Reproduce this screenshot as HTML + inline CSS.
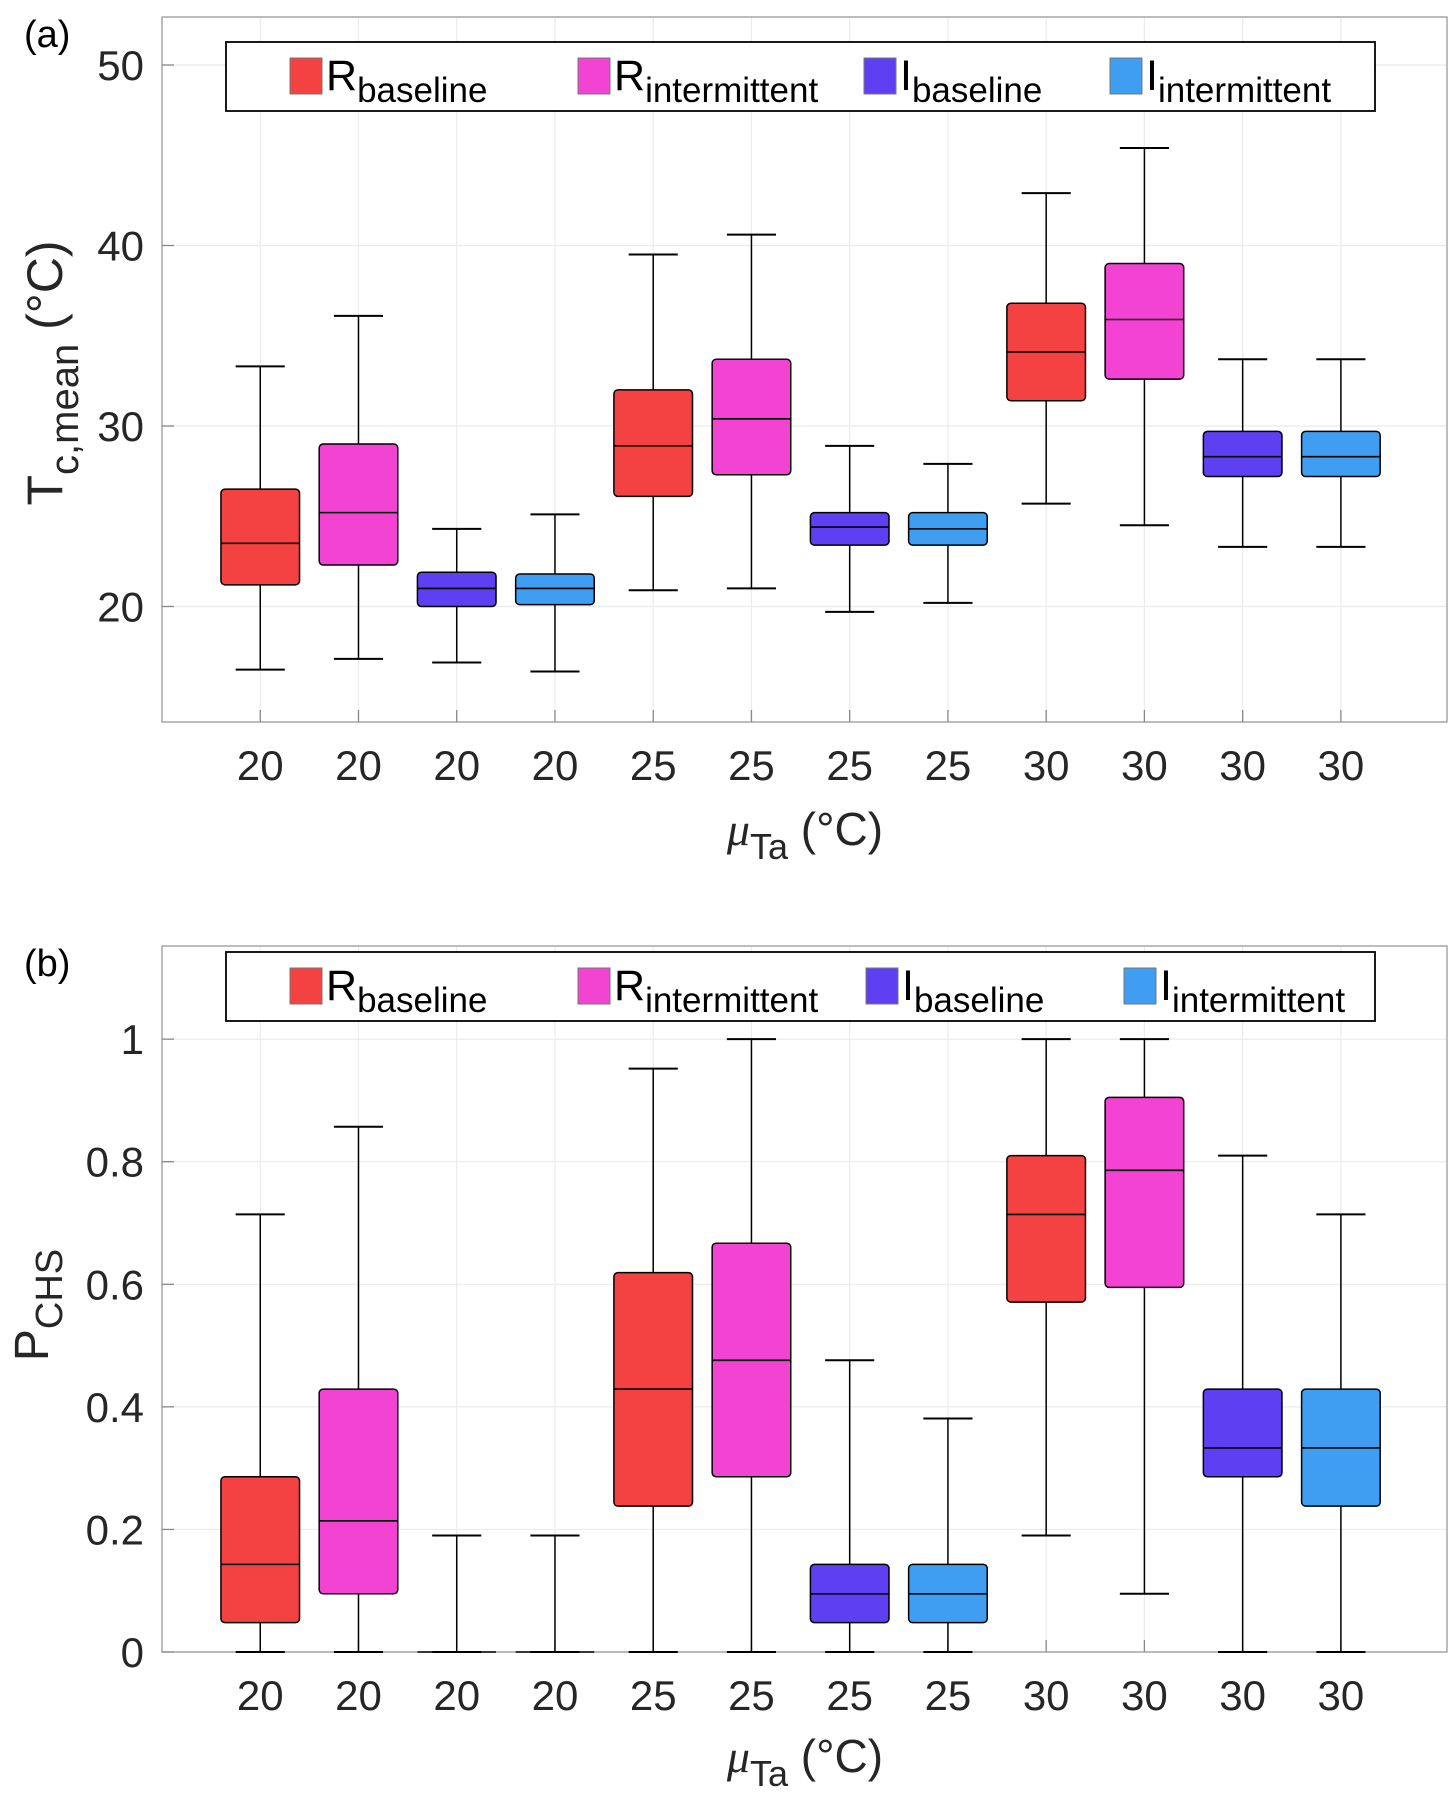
<!DOCTYPE html>
<html><head><meta charset="utf-8"><style>
html,body{margin:0;padding:0;background:#fff;}
svg{display:block;font-family:"Liberation Sans",Arial,sans-serif;}
</style></head><body>
<svg id="fig" width="1456" height="1815" viewBox="0 0 1456 1815" xmlns="http://www.w3.org/2000/svg"></svg>
<script>
const categories = ["20","20","20","20","25","25","25","25","30","30","30","30"];
const groupNames = ["r-baseline","r-intermittent","i-baseline","i-intermittent"];
// panel a: Tc,mean
const aWhiskerLow = [16.5,17.1,16.9,16.4,20.9,21.0,19.7,20.2,25.7,24.5,23.3,23.3];
const aQ1 =         [21.2,22.3,20.0,20.1,26.1,27.3,23.4,23.4,31.4,32.6,27.2,27.2];
const aMedian =     [23.5,25.2,21.0,21.0,28.9,30.4,24.4,24.3,34.1,35.9,28.3,28.3];
const aQ3 =         [26.5,29.0,21.9,21.8,32.0,33.7,25.2,25.2,36.8,39.0,29.7,29.7];
const aWhiskerHigh= [33.3,36.1,24.3,25.1,39.5,40.6,28.9,27.9,42.9,45.4,33.7,33.7];
const aTicks = [20,30,40,50];
// panel b: P_CHS
const bWhiskerLow = [0,0,0,0,0,0,0,0,0.19,0.095,0,0];
const bQ1 =         [0.048,0.095,0,0,0.238,0.286,0.048,0.048,0.571,0.595,0.286,0.238];
const bMedian =     [0.143,0.214,0,0,0.429,0.476,0.095,0.095,0.714,0.786,0.333,0.333];
const bQ3 =         [0.286,0.429,0,0,0.619,0.667,0.143,0.143,0.81,0.905,0.429,0.429];
const bWhiskerHigh= [0.714,0.857,0.19,0.19,0.952,1,0.476,0.381,1,1,0.81,0.714];
const bTicks = [0,0.2,0.4,0.6,0.8,1];
const bTickLabels = ["0","0.2","0.4","0.6","0.8","1"];

const colors = ["#f44141","#f243d2","#5e3ff2","#3f9df2"];
const NS = "http://www.w3.org/2000/svg";
const svg = document.getElementById("fig");
function mk(tag, attrs, parent){const e=document.createElementNS(NS,tag);for(const k in attrs)e.setAttribute(k,attrs[k]);(parent||svg).appendChild(e);return e;}

function panel(cfg){
  const g = mk("g",{});
  
  
  const L=162,R=1447,T=cfg.top,B=cfg.bottom;
  const xs = i => L + (i+1)/(13.08) * (R-L);
  const ys = v => B - (v-cfg.ymin)/(cfg.ymax-cfg.ymin)*(B-T);
  categories.forEach((c,i)=>{const l=mk("line",{x1:xs(i),x2:xs(i),y1:T,y2:B,stroke:"#ebebeb","stroke-width":1.2},g);
    });
  cfg.ticks.forEach(t=>{const l=mk("line",{x1:L,x2:R,y1:ys(t),y2:ys(t),stroke:"#ebebeb","stroke-width":1.2},g);
    });
  const ax=mk("rect",{x:L,y:T,width:R-L,height:B-T,fill:"none",stroke:"#999","stroke-width":1.3},g);
  
  cfg.ticks.forEach((t,k)=>{
    mk("line",{x1:L,x2:L+12,y1:ys(t),y2:ys(t),stroke:"#888","stroke-width":1.3},g);
    const tx=mk("text",{x:L-18,y:ys(t)+15,"text-anchor":"end","font-size":42,fill:"#262626"},g);
    tx.textContent=cfg.tickLabels[k];
    
  });
  categories.forEach((c,i)=>{
    mk("line",{x1:xs(i),x2:xs(i),y1:B,y2:B-12,stroke:"#888","stroke-width":1.3},g);
    const tx=mk("text",{x:xs(i),y:cfg.xlabY,"text-anchor":"middle","font-size":42,fill:"#262626"},g);
    tx.textContent=c;
    
  });
  const bw=0.8*(R-L)/13.08, cw=0.5*(R-L)/13.08;
  categories.forEach((c,i)=>{
    const x=xs(i), col=colors[i%4];
    const bg=mk("g",{},g);
    
    
    mk("line",{x1:x,x2:x,y1:ys(cfg.wl[i]),y2:ys(cfg.wh[i]),stroke:"#000","stroke-width":1.5},bg);
    mk("line",{x1:x-cw/2,x2:x+cw/2,y1:ys(cfg.wl[i]),y2:ys(cfg.wl[i]),stroke:"#000","stroke-width":2},bg);
    mk("line",{x1:x-cw/2,x2:x+cw/2,y1:ys(cfg.wh[i]),y2:ys(cfg.wh[i]),stroke:"#000","stroke-width":2},bg);
    const h=ys(cfg.q1[i])-ys(cfg.q3[i]);
    if(h>0.5) mk("rect",{x:x-bw/2,y:ys(cfg.q3[i]),width:bw,height:h,rx:4,fill:col,stroke:"#000","stroke-width":1.5},bg);
    mk("line",{x1:x-bw/2,x2:x+bw/2,y1:ys(cfg.med[i]),y2:ys(cfg.med[i]),stroke:"#000","stroke-width":1.6},bg);
  });
  const lg=mk("g",{},g);
  
  mk("rect",{x:226,y:cfg.legY,width:1149,height:69,fill:"#fff",stroke:"#000","stroke-width":1.8},lg);
  const entries=[["R","baseline"],["R","intermittent"],["I","baseline"],["I","intermittent"]];
  cfg.legX.forEach((lx,k)=>{
    const eg=mk("g",{},lg);
    
    mk("rect",{x:lx,y:cfg.legY+16,width:32,height:36,fill:colors[k],stroke:"#777","stroke-width":1},eg);
    const t=mk("text",{x:lx+36,y:cfg.legY+48,"font-size":43,fill:"#000"},eg);
    t.innerHTML=entries[k][0]+'<tspan dy="12" font-size="35">'+entries[k][1]+'</tspan>';
  });
  const xl=mk("text",{x:805,y:cfg.xtitleY,"text-anchor":"middle","font-size":46,fill:"#262626"},g);
  xl.innerHTML='<tspan font-family="Liberation Serif" font-style="italic">μ</tspan><tspan dy="14" font-size="36">Ta</tspan><tspan dy="-14"> (°C)</tspan>';
  
  const yl=mk("text",{x:0,y:0,"text-anchor":"middle","font-size":cfg.yfs,fill:"#262626",transform:`translate(${cfg.ytitleX},${cfg.ytitleY}) rotate(-90)`},g);
  yl.innerHTML=cfg.ytitle;
  
  const pl=mk("text",{x:24,y:cfg.top+30,"font-size":38,fill:"#000"},g);
  pl.textContent=cfg.label;
  
}
panel({name:"panel-a",top:17,bottom:722,ymin:13.6,ymax:52.66,ticks:aTicks,tickLabels:aTicks.map(String),
  wl:aWhiskerLow,q1:aQ1,med:aMedian,q3:aQ3,wh:aWhiskerHigh,xlabY:780,xtitleY:845,legY:42,
  legX:[290,578,864,1110],yfs:50,ytitle:'T<tspan dy="16" font-size="40">c,mean</tspan><tspan dy="-16">  (°C)</tspan>',ytitleX:62,ytitleY:373,label:"(a)"});
panel({name:"panel-b",top:946,bottom:1652,ymin:0,ymax:1.152,ticks:bTicks,tickLabels:bTickLabels,
  wl:bWhiskerLow,q1:bQ1,med:bMedian,q3:bQ3,wh:bWhiskerHigh,xlabY:1710,xtitleY:1772,legY:952,
  legX:[290,578,866,1124],yfs:48,ytitle:'P<tspan dy="14" font-size="38">CHS</tspan>',ytitleX:48,ytitleY:1305,label:"(b)"});
</script>
</body></html>
